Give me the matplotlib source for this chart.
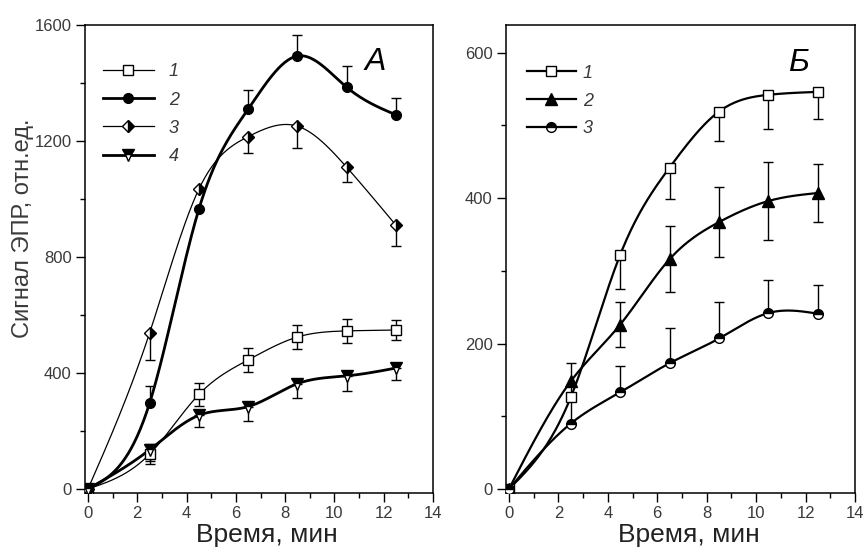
import numpy as np
import matplotlib
matplotlib.use("Agg")
import matplotlib.pyplot as plt
from matplotlib.ticker import MultipleLocator

plt.rcParams['font.family'] = ['Liberation Sans', 'DejaVu Sans']

# время, мин
t = [0, 2.5, 4.5, 6.5, 8.5, 10.5, 12.5]

# панель А
a1 = [0, 120, 326, 445, 524, 545, 548]
a1_err = [0, 35, 40, 40, 40, 42, 35]
a2 = [0, 296, 965, 1310, 1493, 1385, 1290]
a2_err = [0, 60, 0, 65, 73, 72, 58]
a3 = [0, 538, 1034, 1215, 1251, 1109, 909]
a3_err = [0, 93, 0, 57, 75, 50, 70]
a4 = [0, 135, 254, 284, 363, 390, 417]
a4_err = [0, 40, 42, 48, 49, 52, 42]

# панель Б
b1 = [0, 126, 322, 442, 519, 542, 546]
b1_err = [0, 37, 47, 43, 40, 47, 37]
b2 = [0, 148, 226, 316, 367, 396, 407]
b2_err = [0, 25, 31, 45, 48, 54, 40]
b3 = [0, 90, 133, 173, 207, 242, 241]
b3_err = [0, 0, 36, 49, 50, 45, 40]

TXT = '#3a3a3a'


def smooth(x, y, n=300):
    # natural cubic spline through the points, only for drawing the curve
    x = np.asarray(x, float)
    y = np.asarray(y, float)
    h = np.diff(x)
    m = len(x)
    A = np.zeros((m, m))
    r = np.zeros(m)
    A[0, 0] = A[-1, -1] = 1
    for i in range(1, m - 1):
        A[i, i - 1] = h[i - 1]
        A[i, i] = 2 * (h[i - 1] + h[i])
        A[i, i + 1] = h[i]
        r[i] = 6 * ((y[i + 1] - y[i]) / h[i] - (y[i] - y[i - 1]) / h[i - 1])
    M = np.linalg.solve(A, r)
    xs = np.linspace(x[0], x[-1], n)
    k = np.clip(np.searchsorted(x, xs) - 1, 0, m - 2)
    dx1 = x[k + 1] - xs
    dx0 = xs - x[k]
    hk = h[k]
    ys = (M[k] * dx1 ** 3 / (6 * hk) + M[k + 1] * dx0 ** 3 / (6 * hk)
          + (y[k] / hk - M[k] * hk / 6) * dx1 + (y[k + 1] / hk - M[k + 1] * hk / 6) * dx0)
    return xs, ys


def series(ax, y, err, lw, label, errdir, **mk):
    xs, ys = smooth(t, y)
    ax.plot(xs, ys, color='black', lw=lw, zorder=2)
    e = np.asarray(err, float)
    if errdir == 'up':
        yerr = [np.zeros_like(e), e]
    elif errdir == 'down':
        yerr = [e, np.zeros_like(e)]
    else:
        yerr = [e, e]
    ax.errorbar(t, y, yerr=yerr, fmt='none', ecolor='black', elinewidth=1,
                capsize=3.5, capthick=1, zorder=3)
    ax.plot(t, y, ls='none', color='black', mec='black', zorder=4, **mk)
    # для легенды
    ax.plot([], [], color='black', lw=lw, label=label, **mk)


def style(ax):
    for s in ax.spines.values():
        s.set_linewidth(1.1)
    ax.tick_params(which='major', direction='out', length=6.5, width=1,
                   pad=3, labelsize=12, labelcolor=TXT, top=False, right=False)
    ax.tick_params(which='minor', direction='out', length=3.6, width=1,
                   top=False, right=False)
    ax.xaxis.set_major_locator(MultipleLocator(2))
    ax.xaxis.set_minor_locator(MultipleLocator(1))
    ax.set_xlim(-0.12, 14)
    ax.set_xlabel("Время, мин", fontsize=19, color='#222222')
    ax.xaxis.set_label_coords(0.523, -0.064)


fig = plt.figure(figsize=(8.64, 5.5), dpi=100)
axA = fig.add_axes([0.0984, 0.1036, 0.4028, 0.851])
axB = fig.add_axes([0.5856, 0.1036, 0.4040, 0.851])

ms = 7
series(axA, a1, a1_err, 0.9, '1', 'both', marker='s', ms=ms, mfc='white')
series(axA, a2, a2_err, 2.0, '2', 'up', marker='o', ms=ms, mfc='black')
series(axA, a3, a3_err, 0.9, '3', 'down', marker='D', ms=ms - 1, fillstyle='right',
       mfc='black', mfcalt='white')
series(axA, a4, a4_err, 2.0, '4', 'down', marker='v', ms=ms + 1, fillstyle='top',
       mfc='black', mfcalt='white')

series(axB, b1, b1_err, 1.6, '1', 'down', marker='s', ms=ms, mfc='white')
series(axB, b2, b2_err, 1.6, '2', 'both', marker='^', ms=ms + 1, mfc='black')
series(axB, b3, b3_err, 1.6, '3', 'up', marker='o', ms=ms, fillstyle='top',
       mfc='black', mfcalt='white')

style(axA)
axA.set_ylim(-14, 1600)
axA.yaxis.set_major_locator(MultipleLocator(400))
axA.yaxis.set_minor_locator(MultipleLocator(200))
axA.set_ylabel("Сигнал ЭПР, отн.ед.", fontsize=17, color=TXT)
axA.yaxis.set_label_coords(-0.148, 0.566)
axA.text(0.833, 0.921, "А", transform=axA.transAxes, fontsize=23, style='italic',
         ha='center', va='center')
axA.legend(loc='upper left', bbox_to_anchor=(0.052, 0.918), frameon=False,
           borderpad=0, borderaxespad=0, handlelength=2.8, handletextpad=0.85,
           labelspacing=0.62, prop={'size': 13, 'style': 'italic'}, labelcolor=TXT)

style(axB)
axB.set_ylim(-5.5, 638)
axB.yaxis.set_major_locator(MultipleLocator(200))
axB.yaxis.set_minor_locator(MultipleLocator(100))
axB.text(0.837, 0.919, "Б", transform=axB.transAxes, fontsize=23, style='italic',
         ha='center', va='center')
axB.legend(loc='upper left', bbox_to_anchor=(0.060, 0.915), frameon=False,
           borderpad=0, borderaxespad=0, handlelength=2.7, handletextpad=0.4,
           labelspacing=0.6, prop={'size': 13, 'style': 'italic'}, labelcolor=TXT)

fig.savefig("out.png", dpi=100)
